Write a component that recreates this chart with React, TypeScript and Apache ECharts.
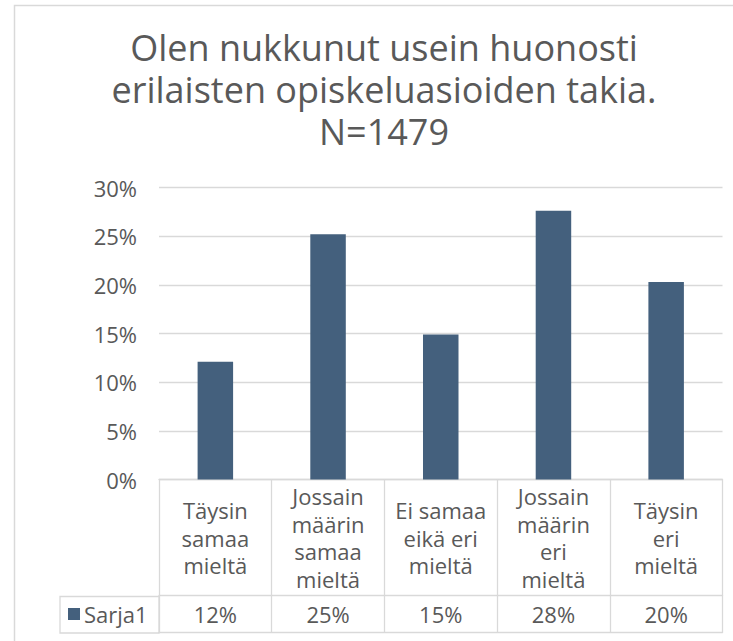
import React, { useEffect, useRef } from "react";
import * as echarts from "echarts";

const TITLE = "Olen nukkunut usein huonosti\nerilaisten opiskeluasioiden takia.\nN=1479";
const categories = [
  "Täysin\nsamaa\nmieltä",
  "Jossain\nmäärin\nsamaa\nmieltä",
  "Ei samaa\neikä eri\nmieltä",
  "Jossain\nmäärin\neri\nmieltä",
  "Täysin\neri\nmieltä",
];
const seriesName = "Sarja1";
const values = [12.1, 25.2, 14.9, 27.6, 20.3];
const yTicks = [0, 5, 10, 15, 20, 25, 30];

const FONT = "'Open Sans', 'Noto Sans', sans-serif";
const TEXT = "#595959";
const LINE = "#d9d9d9";
const BAR = "#44607d";

export default function App() {
  const ref = useRef<HTMLDivElement>(null);
  useEffect(() => {
    if (!ref.current) return;
    const chart = echarts.init(ref.current, undefined, { renderer: "svg" });
    const tableLabels = values.map((v) => Math.round(v) + "%");
    chart.setOption({
      animation: false,
      backgroundColor: "#ffffff",
      textStyle: { fontFamily: FONT },
      legend: {
        data: [seriesName],
        left: 68,
        top: 603,
        icon: "rect",
        itemWidth: 12,
        itemHeight: 12,
        itemGap: 0,
        textStyle: { fontFamily: FONT, fontSize: 22, color: TEXT, padding: [0, 0, 0, -1] },
        padding: 0,
      },
      grid: { left: 159, right: 10.5, top: 187.5, bottom: 161.5, containLabel: false },
      xAxis: [
        {
          type: "category",
          data: categories,
          position: "bottom",
          axisLine: { show: true, lineStyle: { color: LINE, width: 1.3 } },
          axisTick: { show: true, length: 116, lineStyle: { color: LINE, width: 1.3 } },
          axisLabel: {
            interval: 0,
            margin: 58,
            verticalAlign: "middle",
            fontFamily: FONT,
            fontSize: 22,
            lineHeight: 27.5,
            color: TEXT,
            align: "center",
          },
          splitLine: { show: false },
        },
        {
          type: "category",
          data: tableLabels,
          position: "bottom",
          offset: 116,
          axisLine: { show: true, lineStyle: { color: LINE, width: 1.3 } },
          axisTick: { show: true, length: 37, lineStyle: { color: LINE, width: 1.3 } },
          axisLabel: {
            interval: 0,
            margin: 18.5,
            verticalAlign: "middle",
            fontFamily: FONT,
            fontSize: 22,
            color: TEXT,
          },
        },
        {
          type: "category",
          data: tableLabels,
          position: "bottom",
          offset: 153,
          axisLine: { show: true, lineStyle: { color: LINE, width: 1.3 } },
          axisTick: { show: false },
          axisLabel: { show: false },
        },
      ],
      yAxis: {
        type: "value",
        min: yTicks[0],
        max: yTicks[yTicks.length - 1],
        interval: 5,
        axisLine: { show: false },
        axisTick: { show: false },
        splitLine: { show: true, lineStyle: { color: LINE, width: 1.3 } },
        axisLabel: {
          margin: 22,
          fontFamily: FONT,
          fontSize: 22,
          color: TEXT,
          formatter: (v: number) => v + "%",
        },
      },
      series: [
        {
          name: seriesName,
          type: "bar",
          xAxisIndex: 0,
          data: values,
          barWidth: "31.5%",
          itemStyle: { color: BAR },
        },
      ],
      graphic: [
        {
          type: "rect",
          shape: { x: 14.5, y: 5.5, width: 800, height: 800 },
          style: { fill: "none", stroke: LINE, lineWidth: 1.5 },
          silent: true,
          z: -10,
        },
        {
          type: "rect",
          shape: { x: 60, y: 596.5, width: 99, height: 36.5 },
          style: { fill: "none", stroke: LINE, lineWidth: 1.3 },
          silent: true,
        },
        {
          type: "text",
          x: 384,
          y: 26,
          silent: true,
          style: {
            text: TITLE,
            align: "center",
            verticalAlign: "top",
            fontFamily: FONT,
            fontSize: 36,
            lineHeight: 42,
            fill: TEXT,
          },
        },
      ],
    });
    return () => chart.dispose();
  }, []);
  return (
    <div
      ref={ref}
      style={{ position: "fixed", left: 0, top: 0, width: 733, height: 641 }}
    />
  );
}
